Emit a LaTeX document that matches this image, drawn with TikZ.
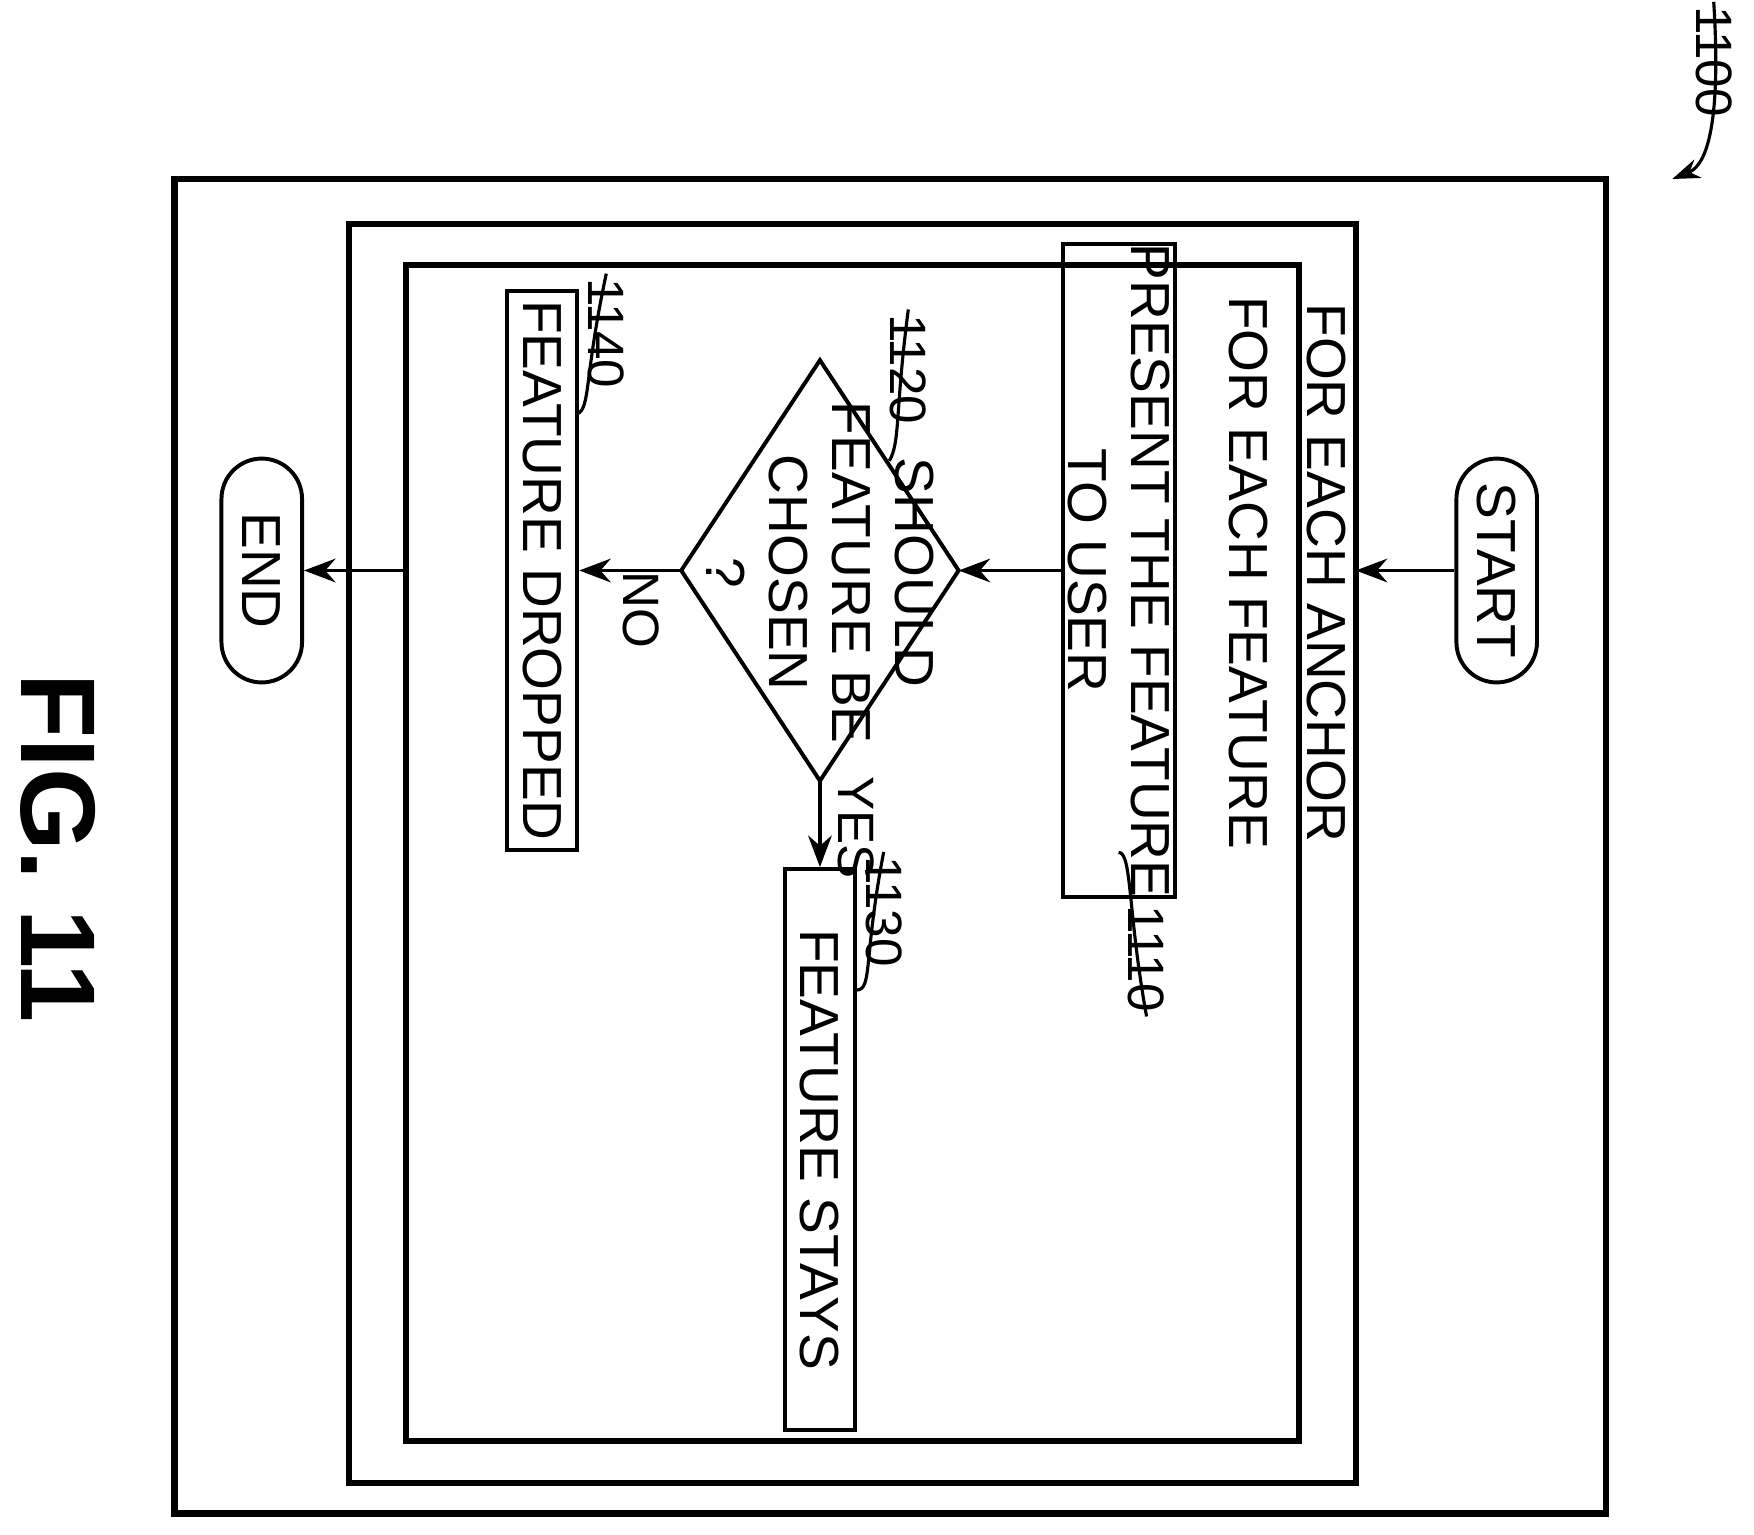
\documentclass[tikz,border=0pt]{standalone}
\usepackage{fontspec}
\setmainfont{Liberation Sans}
\usetikzlibrary{arrows.meta}
\begin{document}
\begin{tikzpicture}[x=0.01cm,y=-0.01cm,
  txt/.style={rotate=-90,font=\fontsize{14}{16}\selectfont,align=center,inner sep=0pt},
  lab/.style={rotate=-90,font=\fontsize{13}{15}\selectfont,inner sep=1pt},
  box/.style={draw,line width=1pt,rotate=-90,font=\fontsize{14}{16}\selectfont,align=center,inner sep=0pt},
  frame/.style={draw,line width=1.6pt},
  term/.style={draw,line width=1pt,rounded corners=0.36cm,rotate=-90,minimum width=2cm,minimum height=0.72cm,font=\fontsize{14}{16}\selectfont},
  arr/.style={-{Stealth[length=8pt,width=6pt]},line width=1pt},
  thin/.style={line width=0.8pt}]
\useasboundingbox (0,0) rectangle (1568,1372);
\draw[frame] (156,160) rectangle (1436,1353);
\draw[frame] (312,200) rectangle (1212,1326);
\draw[frame] (363,237) rectangle (1161,1288);
\coordinate (midE) at (1212,510);
\coordinate (innW) at (363,510);
\node[term] (start) at (1338,510) {START};
\node[term] (end) at (234,510) {END};
\node[txt] (anchor) at (1186,512) {FOR EACH ANCHOR};
\node[txt] (feat) at (1116,512) {FOR EACH FEATURE};
\node[box,minimum width=5cm,minimum height=1cm] (b1110) at (1000,510) {PRESENT THE FEATURE\\TO USER};
\coordinate (dR) at (857,510);
\coordinate (dL) at (609,510);
\coordinate (dT) at (733,322);
\coordinate (dB) at (733,698);
\draw[line width=1pt] (dR) -- (dT) -- (dL) -- (dB) -- cycle;
\node[txt] (dq) at (733,512) {SHOULD\\FEATURE BE\\CHOSEN\\?};
\node[box,minimum width=5.01cm,minimum height=0.62cm] (b1130) at (733,1027.5) {FEATURE STAYS};
\node[box,minimum width=5cm,minimum height=0.63cm] (b1140) at (484.5,510) {FEATURE DROPPED};
\draw[arr] (start) -- (midE);
\draw[arr] (b1110) -- (dR);
\draw[arr] (dB) -- (b1130);
\draw[arr] (dL) -- (b1140);
\draw[arr] (innW) -- (end);
\node[lab] at (765,740) (yes) {YES};
\node[lab] at (573,545) (no) {NO};
\node[lab] (l1110) at (1025,857) {1110};
\node[lab] (l1120) at (812,330) {1120};
\node[lab] (l1130) at (790,815) {1130};
\node[lab] (l1140) at (542,298) {1140};
\node[lab] (l1100) at (1532,55) {1100};
\node[rotate=-90,font=\fontsize{27}{30}\selectfont\bfseries,inner sep=0pt] (fig) at (52,758) {FIG. 11};
\coordinate (c1110) at (1000,762);
\coordinate (c1120) at (795,412);
\coordinate (c1130) at (766,885);
\coordinate (c1140) at (516,370);
\draw[thin] (c1110) .. controls (1012,762) and (1008,815) .. (l1110.east);
\draw[thin] (c1120) .. controls (805,395) and (800,368) .. (l1120.west);
\draw[thin] (c1130) .. controls (780,885) and (772,855) .. (l1130.west);
\draw[thin] (c1140) .. controls (528,365) and (522,338) .. (l1140.west);
\coordinate (t1100) at (1495,160);
\draw[thin,-{Stealth[length=7pt,width=5pt]}] (l1100.west) .. controls (1540,130) and (1520,150) .. (t1100);
\end{tikzpicture}
\end{document}
